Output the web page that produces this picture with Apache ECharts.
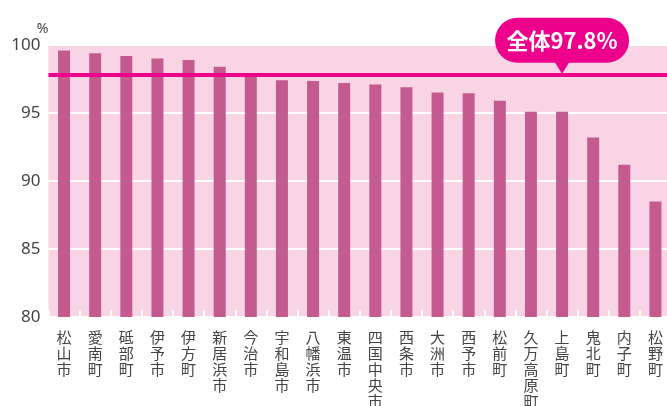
<!DOCTYPE html>
<html>
<head>
<meta charset="utf-8">
<title></title>
<script src="https://cdn.jsdelivr.net/npm/echarts@6/dist/echarts.min.js"></script>
<style>
  html, body { margin: 0; padding: 0; background: #fff; }
  #chart { width: 667px; height: 406px; }
</style>
</head>
<body>
<div id="chart"></div>
<script>
// 市町別 受診率 (%)
var cities = ['松山市', '愛南町', '砥部町', '伊予市', '伊方町', '新居浜市', '今治市', '宇和島市', '八幡浜市', '東温市',
              '四国中央市', '西条市', '大洲市', '西予市', '松前町', '久万高原町', '上島町', '鬼北町', '内子町', '松野町'];
var rates = [99.6, 99.4, 99.2, 99.0, 98.9, 98.4, 97.9, 97.4, 97.35, 97.2,
             97.1, 96.9, 96.5, 96.45, 95.9, 95.1, 95.1, 93.2, 91.2, 88.5];
var totalRate = 97.8;
var calloutCity = '上島町';

var myChart = echarts.init(document.getElementById('chart'));

// 吹き出しの形
var bubble = 'path://M22,0 H112 A22.5,22.5 0 0 1 112,45 H74 L67,56 L60,45 H22 A22.5,22.5 0 0 1 22,0 Z';

var option = {
    animation: false,
    grid: {
        left: 48.5,
        right: -4,
        top: 45,
        bottom: 89,
        outerBoundsMode: 'none',
        containLabel: false,
        show: true,
        backgroundColor: '#f9d4e5',
        borderWidth: 0
    },
    xAxis: {
        type: 'category',
        data: cities,
        axisLine: { show: false },
        axisTick: {
            show: true,
            inside: true,
            length: 7,
            lineStyle: { color: '#ffffff', width: 2 }
        },
        axisLabel: {
            interval: 0,
            margin: 12,
            fontSize: 15,
            lineHeight: 16,
            color: '#444',
            fontFamily: 'Noto Sans CJK JP',
            formatter: function (v) { return v.split('').join('\n'); }
        }
    },
    yAxis: {
        type: 'value',
        min: 80,
        max: 100,
        interval: 5,
        name: '%',
        nameGap: 9,
        nameTextStyle: { fontSize: 14, color: '#444', align: 'right', fontFamily: 'Noto Sans' },
        axisLine: { show: false },
        axisTick: { show: false },
        axisLabel: { fontSize: 17, color: '#444', margin: 8, fontFamily: 'Noto Sans' },
        splitLine: { lineStyle: { color: '#ffffff', width: 2 } }
    },
    series: [{
        type: 'bar',
        data: rates,
        barWidth: 12,
        itemStyle: { color: '#c35b8f' },
        markLine: {
            silent: true,
            symbol: 'none',
            label: { show: false },
            lineStyle: { color: '#ec008c', width: 4, type: 'solid' },
            data: [{ yAxis: totalRate }]
        },
        markPoint: {
            silent: true,
            symbol: bubble,
            symbolSize: [134, 56],
            symbolKeepAspect: false,
            symbolOffset: [0, '-52%'],
            itemStyle: { color: '#ec008c' },
            label: {
                show: true,
                offset: [0, -5],
                color: '#ffffff',
                fontSize: 22,
                fontWeight: 'bold',
                fontFamily: 'Noto Sans CJK JP',
                formatter: '全体' + totalRate + '%'
            },
            data: [{ coord: [calloutCity, totalRate] }]
        }
    }]
};

myChart.setOption(option);
</script>
</body>
</html>
